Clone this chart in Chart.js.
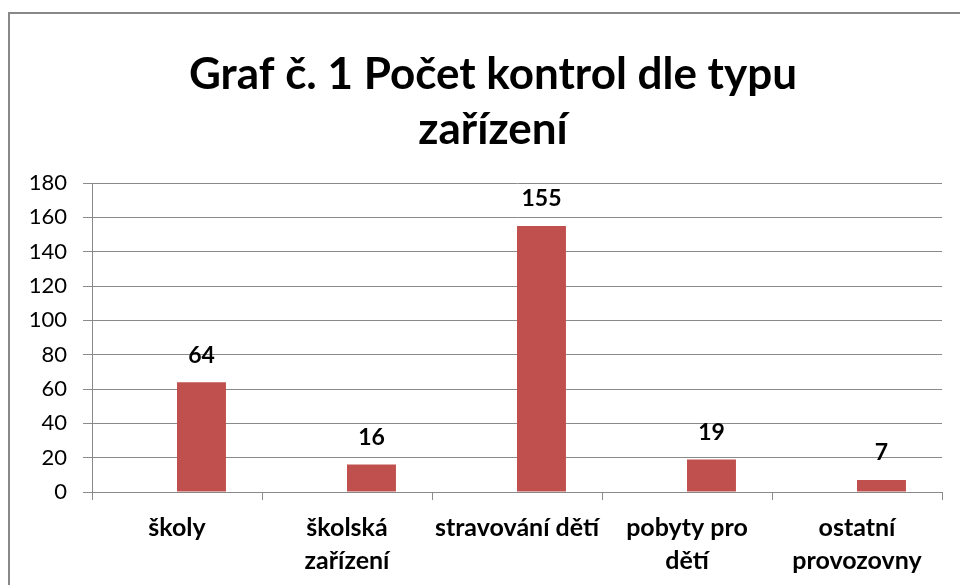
<!DOCTYPE html>
<html>
<head>
<meta charset="utf-8">
<script src="https://cdn.jsdelivr.net/npm/chart.js@4"></script>
<style>
  html, body { margin: 0; padding: 0; background: #fff; overflow: hidden; }
  #wrap { position: relative; width: 960px; height: 585px; }
  #frame { position: absolute; left: 8px; top: 12px; width: 980px; height: 600px; border: 2px solid #888; box-sizing: border-box; }
  canvas { position: absolute; left: 0; top: 0; }
</style>
</head>
<body>
<div id="wrap">
  <div id="frame"></div>
  <canvas id="chart" width="960" height="585"></canvas>
</div>
<script>
// --- Data ---
const titleLines = ['Graf č. 1 Počet kontrol dle typu', 'zařízení'];
const categories = [
    'školy',
    ['školská', 'zařízení'],
    'stravování dětí',
    ['pobyty pro', 'dětí'],
    ['ostatní', 'provozovny']
];
const kontroly = [64, 16, 155, 19, 7];
const emptySeries = [null, null, null, null, null]; // Excel leaves an empty slot left of each bar
const yTicks = [0, 20, 40, 60, 80, 100, 120, 140, 160, 180];

const gridColor = '#8a8a8a';
const barColor = '#c0504d';

// value labels above the bars
const valueLabels = {
    id: 'valueLabels',
    afterDatasetsDraw(chart) {
        const ctx = chart.ctx;
        const meta = chart.getDatasetMeta(1);
        ctx.save();
        ctx.font = 'bold 23px Lato';
        ctx.fillStyle = '#000';
        ctx.textAlign = 'center';
        ctx.textBaseline = 'middle';
        meta.data.forEach((bar, i) => {
            ctx.fillText(kontroly[i], bar.x, bar.y - 27);
        });
        ctx.restore();
    }
};

// Excel centres the title over the whole frame, a bit right of the canvas centre
const shiftTitle = {
    id: 'shiftTitle',
    afterLayout(chart) {
        chart.titleBlock.left += 24;
    }
};

const ctx = document.getElementById('chart').getContext('2d');
new Chart(ctx, {
    type: 'bar',
    data: {
        labels: categories,
        datasets: [
            { data: emptySeries, backgroundColor: barColor },
            { data: kontroly, backgroundColor: barColor, borderWidth: 0 }
        ]
    },
    options: {
        responsive: false,
        animation: false,
        layout: { padding: { left: 20, right: 18, top: 47, bottom: -4 } },
        datasets: { bar: { categoryPercentage: 0.576, barPercentage: 1 } },
        plugins: {
            legend: { display: false },
            tooltip: { enabled: false },
            title: {
                display: true,
                text: titleLines,
                color: '#000',
                font: { family: 'Lato', size: 44, weight: 'bold', lineHeight: 1.25 },
                padding: { top: 0, bottom: 26 }
            }
        },
        scales: {
            y: {
                min: 0,
                max: 180,
                afterFit(axis) { axis.width = 72; },
                afterBuildTicks(axis) { axis.ticks = yTicks.map(v => ({ value: v })); },
                grid: { color: gridColor, tickLength: 9, drawTicks: true },
                border: { color: gridColor },
                ticks: { color: '#000', padding: 16, font: { family: 'Lato', size: 22 } }
            },
            x: {
                grid: { offset: true, drawOnChartArea: false, tickLength: 8, color: gridColor },
                border: { color: gridColor },
                ticks: {
                    color: '#000',
                    padding: 12,
                    maxRotation: 0,
                    autoSkip: false,
                    font: { family: 'Lato', size: 25, weight: 'bold', lineHeight: 1.3 }
                }
            }
        }
    },
    plugins: [valueLabels, shiftTitle]
});
</script>
</body>
</html>
